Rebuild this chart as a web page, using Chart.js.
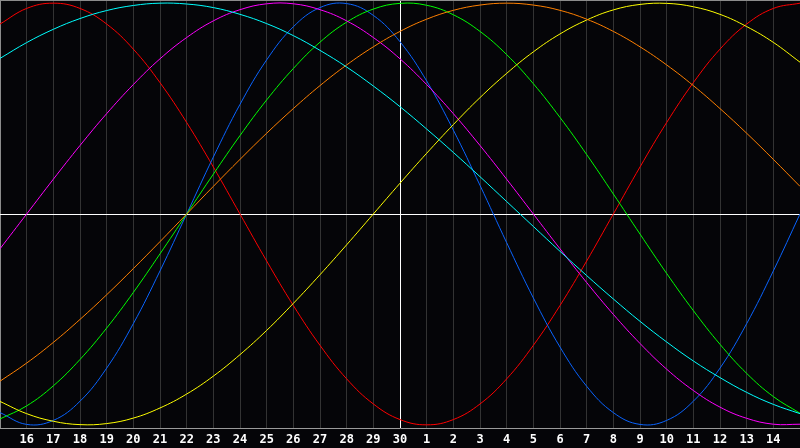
<!DOCTYPE html>
<html><head><meta charset="utf-8">
<style>html,body{margin:0;padding:0;background:#050508;overflow:hidden}#wrap{width:800px;height:448px;background:#050508}</style>
<script src="https://cdn.jsdelivr.net/npm/chart.js@4/dist/chart.umd.min.js"></script>
</head><body><div id="wrap"><canvas id="c" width="800" height="448"></canvas></div>
<script>
const days = ['15','16','17','18','19','20','21','22','23','24','25','26','27','28','29','30','1','2','3','4','5','6','7','8','9','10','11','12','13','14','15'];

const emotional = [0.901,0.975,1,0.975,0.901,0.782,0.623,0.434,0.223,0,-0.223,-0.434,-0.623,-0.782,-0.901,-0.975,-1,-0.975,-0.901,-0.782,-0.623,-0.434,-0.223,0,0.223,0.434,0.623,0.782,0.901,0.975,1];
const physical = [-0.942,-0.998,-0.979,-0.888,-0.731,-0.520,-0.270,0,0.270,0.520,0.731,0.888,0.979,0.998,0.942,0.817,0.631,0.398,0.136,-0.136,-0.398,-0.631,-0.817,-0.942,-0.998,-0.979,-0.888,-0.731,-0.520,-0.270,0];
const intellectual = [-0.972,-0.910,-0.815,-0.690,-0.541,-0.372,-0.189,0,0.189,0.372,0.541,0.690,0.815,0.910,0.972,0.999,0.990,0.945,0.866,0.756,0.618,0.458,0.282,0.095,-0.095,-0.282,-0.458,-0.618,-0.756,-0.866,-0.945];
const intuitive = [-0.165,0,0.165,0.325,0.476,0.614,0.736,0.837,0.916,0.969,0.997,0.997,0.969,0.916,0.837,0.736,0.614,0.476,0.325,0.165,0,-0.165,-0.325,-0.476,-0.614,-0.736,-0.837,-0.916,-0.969,-0.997,-0.997];
const aesthetic = [-0.889,-0.947,-0.983,-0.999,-0.994,-0.968,-0.920,-0.854,-0.769,-0.667,-0.552,-0.424,-0.288,-0.146,0,0.146,0.288,0.424,0.552,0.667,0.769,0.854,0.920,0.968,0.994,0.999,0.983,0.947,0.889,0.814,0.720];
const awareness = [-0.793,-0.707,-0.609,-0.5,-0.383,-0.259,-0.131,0,0.131,0.259,0.383,0.5,0.609,0.707,0.793,0.866,0.924,0.966,0.991,1,0.991,0.966,0.924,0.866,0.793,0.707,0.609,0.5,0.383,0.259,0.131];
const spiritual = [0.738,0.813,0.876,0.927,0.965,0.989,1.000,0.996,0.979,0.947,0.903,0.846,0.776,0.697,0.607,0.509,0.403,0.292,0.177,0.059,-0.059,-0.177,-0.292,-0.403,-0.509,-0.607,-0.697,-0.776,-0.846,-0.903,-0.947];

const YMAX = 1.015;

function ds(data, color){
  return {data, borderColor: color, borderWidth: 1, pointRadius: 0, pointHoverRadius: 0, fill: false, tension: 0.4};
}

new Chart(document.getElementById('c').getContext('2d'), {
  type: 'line',
  data: {
    labels: days,
    datasets: [
      ds(spiritual, '#00ffff'),
      ds(awareness, '#ff8000'),
      ds(aesthetic, '#ffff00'),
      ds(intuitive, '#ff00ff'),
      ds(intellectual, '#00ff00'),
      ds(physical, '#0a64ff'),
      ds(emotional, '#ff0000')
    ]
  },
  options: {
    responsive: false,
    animation: false,
    devicePixelRatio: 1,
    layout: {padding: 0, autoPadding: false},
    plugins: {legend: {display: false}, tooltip: {enabled: false}},
    scales: {
      x: {
        offset: false,
        grid: {
          drawTicks: false,
          lineWidth: 1,
          color: c => c.index === 15 ? '#ffffff' : (c.index === 0 ? '#8c8c8c' : '#333333')
        },
        border: {color: '#9a9a9a'},
        ticks: {
          color: '#ffffff',
          font: {family: "'DejaVu Sans Mono', monospace", weight: 'bold', size: 12},
          padding: 5,
          maxRotation: 0,
          autoSkip: false,
          callback: (v, i) => (i === 0 || i === days.length - 1) ? '' : days[i]
        },
        afterFit: s => { s.height = 20; s.paddingLeft = 0; s.paddingRight = 0; }
      },
      y: {
        min: -YMAX, max: YMAX,
        ticks: {display: false},
        border: {display: false},
        grid: {
          drawTicks: false,
          color: c => c.tick && c.tick.value === 0 ? '#ffffff' : (c.tick && c.tick.value > 0 ? '#8c8c8c' : 'rgba(0,0,0,0)')
        },
        afterBuildTicks: s => { s.ticks = [{value: -YMAX}, {value: 0}, {value: YMAX}]; },
        afterFit: s => { s.width = 0; s.paddingTop = 0; s.paddingBottom = 0; }
      }
    }
  }
});
</script>
</body></html>
